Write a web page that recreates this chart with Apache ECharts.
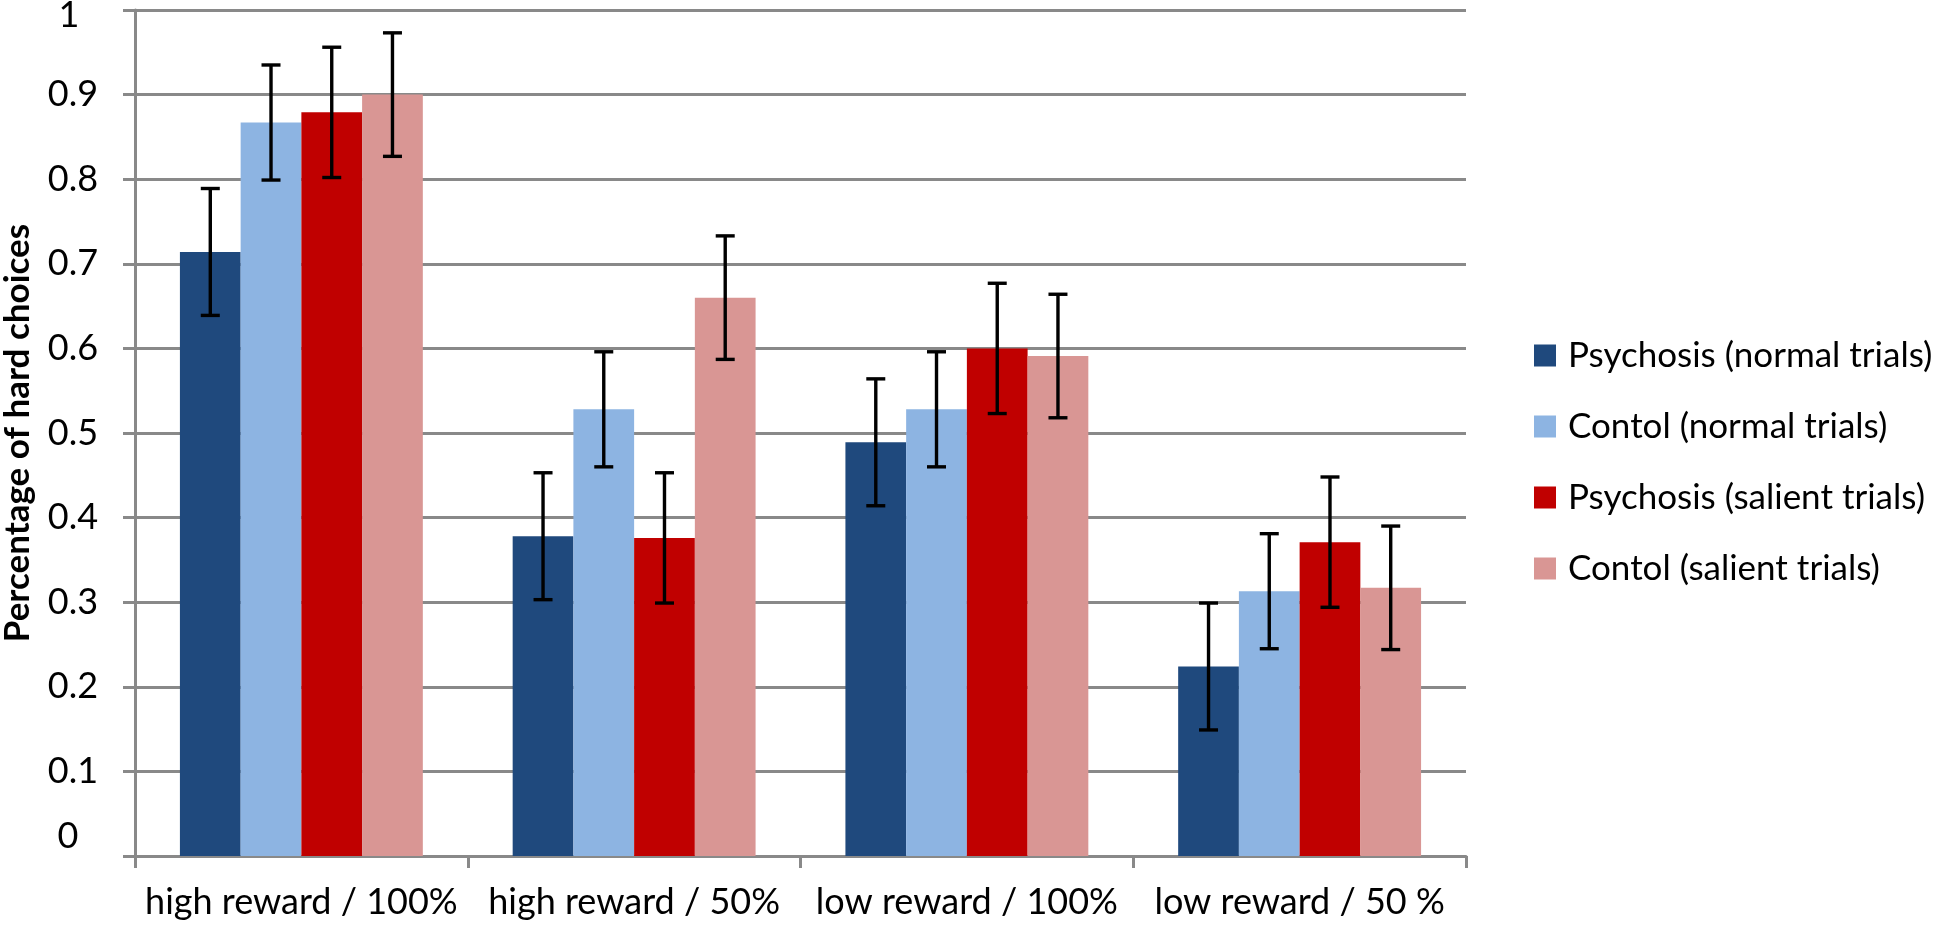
<!DOCTYPE html>
<html>
<head>
<meta charset="utf-8">
<script src="https://cdn.jsdelivr.net/npm/echarts@6/dist/echarts.min.js"></script>
<style>
  html, body { margin: 0; padding: 0; background: #ffffff; }
  #chart { width: 1945px; height: 925px; }
</style>
</head>
<body>
<div id="chart"></div>
<script>
// ---- data ----
const categories = ['high reward / 100%', 'high reward / 50%', 'low reward / 100%', 'low reward / 50 %'];
const seriesNames = ['Psychosis (normal trials)', 'Contol (normal trials)', 'Psychosis (salient trials)', 'Contol (salient trials)'];
const psychosisNormal = [0.714, 0.378, 0.489, 0.224];
const controlNormal   = [0.867, 0.528, 0.528, 0.313];
const psychosisSalient= [0.879, 0.376, 0.600, 0.371];
const controlSalient  = [0.900, 0.660, 0.591, 0.317];
const errPsychosisNormal  = [0.075, 0.075, 0.075, 0.075];
const errControlNormal    = [0.068, 0.068, 0.068, 0.068];
const errPsychosisSalient = [0.077, 0.077, 0.077, 0.077];
const errControlSalient   = [0.073, 0.073, 0.073, 0.073];
const yTicks = { min: 0, max: 1, interval: 0.1 };

const colors = ['#1F497D', '#8DB4E2', '#C00000', '#D99694'];
const values = [psychosisNormal, controlNormal, psychosisSalient, controlSalient];
const errors = [errPsychosisNormal, errControlNormal, errPsychosisSalient, errControlSalient];

const CAT_GAP = 0.27;
const NS = values.length;
const FONT = 'Lato';
const GRID_COLOR = '#898989';

const barSeries = values.map((vals, s) => ({
  name: seriesNames[s],
  type: 'bar',
  data: vals,
  barGap: '0%',
  barCategoryGap: (CAT_GAP * 100) + '%',
  itemStyle: { color: colors[s] },
  z: 2
}));

const errSeries = values.map((vals, s) => ({
  name: seriesNames[s] + ' err',
  type: 'custom',
  z: 5,
  silent: true,
  data: vals.map((v, i) => [i, v, errors[s][i]]),
  encode: { x: 0, y: 1 },
  renderItem: function (params, api) {
    const idx = api.value(0);
    const val = api.value(1);
    const err = api.value(2);
    const c = api.coord([idx, val]);
    const catW = api.size([1, 0])[0];
    const barW = catW * (1 - CAT_GAP) / NS;
    const x = c[0] - catW * (1 - CAT_GAP) / 2 + barW * (s + 0.5);
    const yt = api.coord([idx, val + err])[1];
    const yb = api.coord([idx, val - err])[1];
    const hw = 9.5;
    const st = { stroke: '#000', lineWidth: 3.4 };
    return {
      type: 'group',
      children: [
        { type: 'line', shape: { x1: x, y1: yt, x2: x, y2: yb }, style: st },
        { type: 'line', shape: { x1: x - hw, y1: yt, x2: x + hw, y2: yt }, style: st },
        { type: 'line', shape: { x1: x - hw, y1: yb, x2: x + hw, y2: yb }, style: st }
      ]
    };
  }
}));

const chart = echarts.init(document.getElementById('chart'));
chart.setOption({
  animation: false,
  backgroundColor: '#ffffff',
  grid: { left: 135, right: 479, top: 10, bottom: 69, containLabel: false, outerBoundsMode: 'none' },
  legend: {
    data: seriesNames,
    orient: 'vertical',
    left: 1529,
    top: 333,
    icon: 'rect',
    itemWidth: 22,
    itemHeight: 22,
    itemGap: 36,
    textStyle: { fontFamily: FONT, fontSize: 35, color: '#000', lineHeight: 35, padding: [0, 0, 0, 7] }
  },
  xAxis: {
    type: 'category',
    data: categories,
    axisLine: { lineStyle: { color: GRID_COLOR, width: 3 } },
    axisTick: { show: true, length: 12, lineStyle: { color: GRID_COLOR, width: 3 } },
    axisLabel: { fontFamily: FONT, fontSize: 36, color: '#000', margin: 28, interval: 0 },
    splitLine: { show: false }
  },
  yAxis: {
    type: 'value',
    min: yTicks.min,
    max: yTicks.max,
    interval: yTicks.interval,
    name: 'Percentage of hard choices',
    nameLocation: 'middle',
    nameRotate: 90,
    nameGap: 100,
    nameTextStyle: { fontFamily: FONT, fontSize: 35, fontWeight: 'bold', color: '#000' },
    axisLine: { show: true, lineStyle: { color: GRID_COLOR, width: 3 } },
    axisTick: { show: true, length: 12, lineStyle: { color: GRID_COLOR, width: 3 } },
    axisLabel: {
      fontFamily: FONT, fontSize: 36, color: '#000', margin: 62, align: 'center',
      formatter: function (v) {
        if (v === 0) return '{z|0}';
        if (v === 1) return '{o|1}';
        return String(Math.round(v * 10) / 10);
      },
      rich: {
        z: { fontFamily: FONT, fontSize: 36, color: '#000', padding: [0, 10, 40, 0] },
        o: { fontFamily: FONT, fontSize: 36, color: '#000', padding: [10, 8, 0, 0] }
      }
    },
    splitLine: { show: true, lineStyle: { color: GRID_COLOR, width: 3 } }
  },
  series: barSeries.concat(errSeries)
});
</script>
</body>
</html>
